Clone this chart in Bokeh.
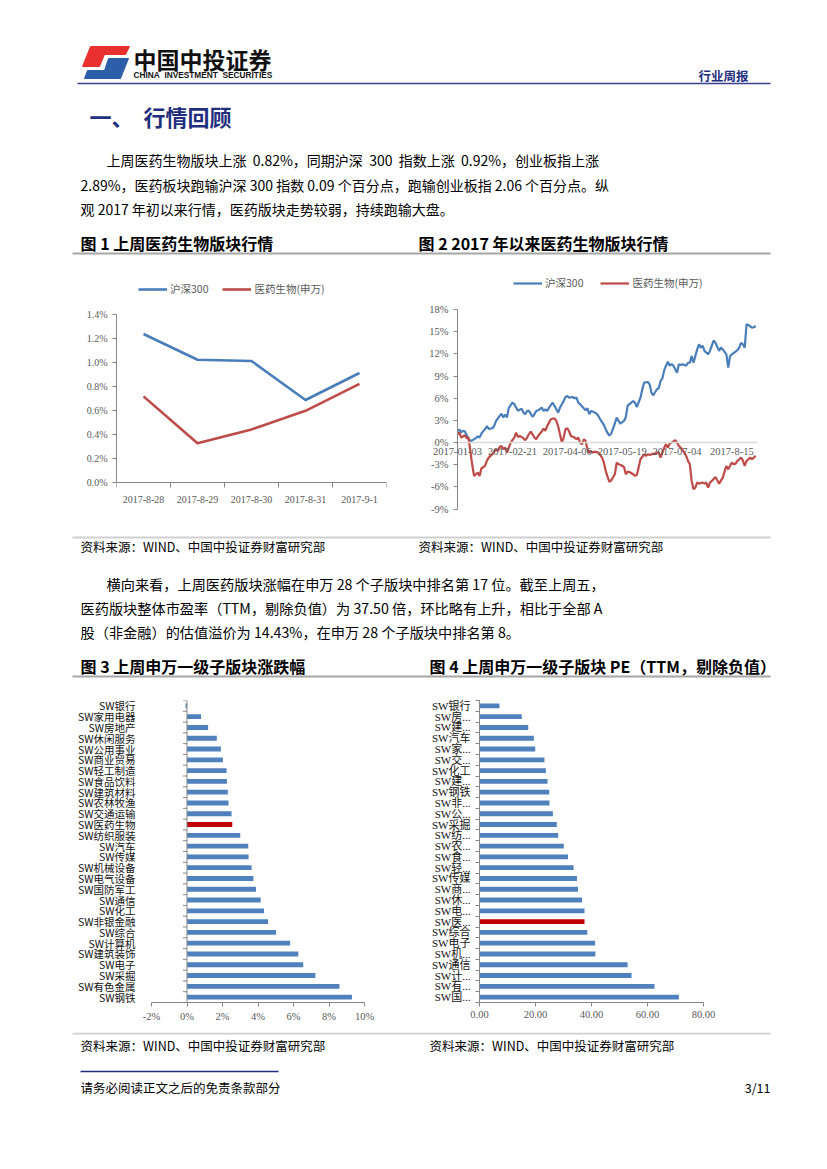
import numpy as np
from bokeh.plotting import figure
from bokeh.models import Range1d, FixedTicker, PrintfTickFormatter, Legend, LegendItem, Span
from bokeh.layouts import column, row
from bokeh.embed import file_html
from bokeh.resources import INLINE
from bokeh.core.properties import value

# ---------------- data ----------------
c1_dates = ["2017-8-28", "2017-8-29", "2017-8-30", "2017-8-31", "2017-9-1"]
c1_hs300 = [1.24, 1.025, 1.015, 0.69, 0.915]
c1_med = [0.72, 0.33, 0.445, 0.60, 0.825]
c1_yticks = [0.0, 0.2, 0.4, 0.6, 0.8, 1.0, 1.2, 1.4]

c2_tick_idx = [0, 30, 60, 90, 120, 150]
c2_tick_labels = ["2017-01-03", "2017-02-21", "2017-04-06", "2017-05-19", "2017-07-04", "2017-8-15"]
c2_yticks = [-9, -6, -3, 0, 3, 6, 9, 12, 15, 18]
c2_hs_idx = [0, 1, 2, 3, 4, 5, 6, 7, 8, 10, 11, 12, 13, 14, 15, 16, 17, 19, 20, 21, 23, 24, 25, 26, 27, 28,
             30, 31, 32, 33, 35, 36, 37, 38, 39, 41, 42, 43, 44, 46, 47, 48, 49, 50, 52, 53, 54, 55, 56, 58,
             59, 60, 61, 63, 64, 65, 66, 67, 69, 70, 71, 72, 73, 75, 76, 77, 78, 80, 81, 82, 83, 84, 85, 86,
             87, 88, 89, 91, 92, 93, 95, 96, 97, 98, 100, 101, 102, 104, 105, 106, 107, 109, 110, 111, 112,
             113, 114, 115, 116, 117, 118, 120, 121, 122, 123, 125, 126, 127, 128, 129, 131, 132, 133, 134,
             135, 137, 138, 139, 140, 141, 143, 144, 145, 147, 148, 149, 150, 152, 153, 154, 155, 156, 157,
             158, 159, 161, 162, 163]
c2_hs_val = [1.58, 1.75, 1.4, 1.6, 1.5, 1.0, 0.45, 0.23, 0.3, 0.6, 0.85, 0.7, 1.2, 1.55, 1.8, 2.25, 1.85,
             1.94, 2.25, 2.9, 3.6, 3.9, 3.4, 3.8, 3.4, 4.7, 5.4, 5.2, 4.75, 4.3, 4.6, 4.06, 3.83, 4.28, 4.28,
             3.5, 3.83, 4.28, 4.37, 4.73, 4.28, 4.5, 4.28, 4.73, 5.4, 4.96, 4.5, 4.06, 4.73, 5.63, 6.17, 6.3,
             6.08, 6.17, 6.0, 6.08, 5.4, 5.18, 4.64, 4.37, 4.64, 3.83, 4.28, 4.06, 3.92, 3.6, 3.15, 2.4, 1.8,
             1.3, 0.95, 1.2, 1.9, 2.6, 3.38, 2.93, 2.57, 2.93, 3.47, 5.0, 5.4, 5.63, 5.4, 4.82, 6.08, 7.2, 8.1,
             8.2, 7.9, 6.76, 6.4, 7.21, 7.35, 8.34, 8.7, 9.8, 10.4, 10.95, 10.4, 10.6, 10.4, 9.46, 10.6, 10.5,
             10.6, 10.4, 10.8, 10.8, 11.7, 10.8, 12.6, 13.3, 12.84, 13.1, 12.4, 11.94, 12.4, 13.1, 13.8, 13.5,
             12.4, 12.84, 12.6, 11.94, 10.14, 11.7, 11.94, 12.3, 12.5, 12.84, 13.5, 13.3, 12.84, 16.0, 15.9,
             15.55, 15.6, 15.77]
c2_med_idx = [0, 1, 2, 4, 5, 6, 7, 8, 9, 10, 11, 12, 13, 15, 16, 17, 18, 19, 21, 22, 23, 24, 25, 26, 27, 28,
              29, 31, 32, 33, 34, 36, 37, 38, 39, 40, 42, 43, 44, 45, 46, 47, 48, 49, 50, 51, 53, 54, 55, 56,
              57, 58, 59, 60, 61, 62, 64, 65, 66, 67, 68, 69, 70, 71, 72, 73, 74, 75, 77, 78, 79, 80, 81, 82,
              83, 84, 86, 87, 88, 89, 91, 92, 93, 94, 96, 97, 98, 99, 100, 102, 103, 104, 105, 107, 108, 109,
              110, 111, 113, 114, 115, 116, 117, 119, 120, 121, 122, 124, 125, 126, 127, 128, 129, 130, 131,
              132, 134, 135, 136, 137, 138, 139, 141, 142, 143, 145, 146, 147, 148, 150, 151, 152, 153, 155,
              156, 157, 158, 160, 161, 162, 163]
c2_med_val = [1.13, 1.35, 0.68, 1.0, 0.6, 0.68, -1.2, -3.0, -4.5, -4.28, -4.06, -4.5, -3.5, -3.15, -2.48,
              -2.03, -1.8, -1.58, -0.9, -1.13, -0.6, -0.45, -0.9, -0.68, -1.35, -0.68, 0.0, 0.68, 1.35, 0.77,
              0.9, 0.6, 0.32, 0.68, 1.13, 1.5, 0.7, 0.45, 0.9, 1.2, 1.5, 1.9, 1.58, 2.25, 2.7, 3.15, 3.29, 2.93,
              2.2, 1.13, 0.0, 0.68, 1.8, 1.94, 1.5, 0.9, 0.68, 0.45, 0.68, 0.0, -0.23, 0.45, 0.23, -0.9, -1.35,
              -1.13, -1.35, -1.22, -1.35, -1.7, -2.03, -2.7, -3.83, -4.6, -5.3, -5.1, -4.28, -2.7, -2.93, -3.0,
              -3.3, -4.28, -3.92, -3.97, -4.28, -4.5, -4.37, -3.38, -2.25, -1.58, -1.8, -1.58, -1.67, -1.49,
              -1.58, -1.35, -1.35, -2.03, -0.68, -0.23, -0.68, -0.14, 0.0, 0.32, 0.0, -0.45, -0.68, -1.35, -1.8,
              -2.48, -2.93, -5.18, -6.3, -6.08, -5.4, -5.54, -5.4, -5.54, -5.4, -6.08, -5.4, -5.18, -4.64, -5.1,
              -5.54, -4.73, -3.92, -3.15, -3.6, -2.7, -2.93, -2.84, -2.48, -2.03, -2.39, -3.15, -2.48, -2.03,
              -2.25, -2.03, -1.8]

c3_cats = ["SW银行", "SW家用电器", "SW房地产", "SW休闲服务", "SW公用事业", "SW商业贸易", "SW轻工制造",
           "SW食品饮料", "SW建筑材料", "SW农林牧渔", "SW交通运输", "SW医药生物", "SW纺织服装", "SW汽车",
           "SW传媒", "SW机械设备", "SW电气设备", "SW国防军工", "SW通信", "SW化工", "SW非银金融", "SW综合",
           "SW计算机", "SW建筑装饰", "SW电子", "SW采掘", "SW有色金属", "SW钢铁"]
c3_vals = [-0.08, 0.79, 1.19, 1.68, 1.91, 2.02, 2.23, 2.25, 2.30, 2.34, 2.51, 2.55, 3.00, 3.45, 3.47, 3.64,
           3.74, 3.89, 4.15, 4.34, 4.57, 5.02, 5.81, 6.27, 6.55, 7.23, 8.59, 9.29]
c3_xticks = [-2, 0, 2, 4, 6, 8, 10]

c4_cats = ["SW银行", "SW房...", "SW建...", "SW汽车", "SW家...", "SW交...", "SW化工", "SW建...", "SW钢铁",
           "SW非...", "SW公...", "SW采掘", "SW纺...", "SW农...", "SW食...", "SW轻...", "SW传媒", "SW商...",
           "SW休...", "SW电...", "SW医...", "SW综合", "SW电子", "SW机...", "SW通信", "SW计...", "SW有...",
           "SW国..."]
c4_vals = [7.13, 15.1, 17.4, 19.4, 19.9, 23.2, 23.7, 24.3, 24.9, 25.0, 26.2, 27.6, 28.1, 30.1, 31.6, 33.6,
           34.8, 35.2, 36.6, 37.5, 37.5, 38.5, 41.3, 41.4, 52.9, 54.3, 62.5, 71.2]
c4_xticks = [0, 20, 40, 60, 80]

highlight3 = "SW医药生物"
highlight4 = "SW医..."

# ---------------- styles ----------------
CJK = "Noto Sans CJK SC"
SERIF = "Liberation Serif"
BLUE = "#4A7EBB"
RED = "#BE4B48"
BAR = "#4F81BD"
BAR_HL = "#C00000"
AX = "#868686"
LBL = "#595959"
NAVY = "#1F2F7E"
W = 811
SP = "\u00a0"


def blank(h, top):
    p = figure(width=W, height=h, x_range=Range1d(0, W), y_range=Range1d(top + h, top),
               output_backend="svg", toolbar_location=None, min_border=0,
               x_axis_location=None, y_axis_location=None)
    p.grid.visible = False
    p.outline_line_color = None
    return p


def txt(p, x, y, s, size, color="#000000", bold=False, font=CJK, align="left"):
    p.text(x=[x], y=[y], text=[s], text_font=value(font), text_font_size=f"{size}px",
           text_color=color, text_font_style="bold" if bold else "normal",
           text_baseline="middle", text_align=align)


def hline(p, x0, x1, y, color, w):
    p.line(x=[x0, x1], y=[y, y], line_color=color, line_width=w)


def make_legend(items, spacing, loc):
    return Legend(items=items, location=loc, orientation="horizontal", padding=0, margin=0,
                  spacing=spacing, glyph_width=29, glyph_height=12, label_height=12, label_standoff=3,
                  label_text_font=CJK, label_text_font_size="10.5px", label_text_color=LBL,
                  border_line_color=None, background_fill_alpha=0)


def style_axis(ax, size="10.5px", color=LBL, font=SERIF):
    ax.major_label_text_font = font
    ax.major_label_text_font_size = size
    ax.major_label_text_color = color


# ---------------- header block ----------------
hdr = blank(255, 0)
hdr.patch(x=[90, 129, 125, 104, 99, 82], y=[46, 46, 54, 54, 66, 66], color="#E8312F")
hdr.patch(x=[108, 128, 120, 84, 87, 104], y=[58, 58, 78, 78, 70, 70], color="#2D5FA8")
txt(hdr, 133, 58, "中国中投证券", 23, "#111111", True)
txt(hdr, 133, 74, "CHINA" + SP * 2 + "INVESTMENT" + SP * 2 + "SECURITIES", 8.3, "#111111", True, "Liberation Sans")
txt(hdr, 748, 75, "行业周报", 12.5, NAVY, True, align="right")
hline(hdr, 77, 770, 83, "#3B3F8F", 1.6)
txt(hdr, 89, 115, "一、" + SP * 2 + "行情回顾", 22, NAVY, True)
txt(hdr, 106, 159, "上周医药生物版块上涨" + SP + " 0.82%，同期沪深" + SP + " 300" + SP + " 指数上涨" + SP
    + " 0.92%，创业板指上涨", 14)
txt(hdr, 80, 184, "2.89%，医药板块跑输沪深 300 指数 0.09 个百分点，跑输创业板指 2.06 个百分点。纵", 14)
txt(hdr, 80, 208, "观 2017 年初以来行情，医药版块走势较弱，持续跑输大盘。", 14)
txt(hdr, 80, 242, "图 1 上周医药生物版块行情", 16, "#000000", True)
txt(hdr, 418, 242, "图 2 2017 年以来医药生物版块行情", 16, "#000000", True)
hline(hdr, 72, 770, 253, "#A6A6A6", 2)

# ---------------- chart 1 ----------------
# Both charts in this row share one frame height; the frame reaches past the axes so the
# legend and edge tick labels stay inside it; axes are bounded / fixed at the data origin.
p1 = figure(width=410, height=280, x_range=Range1d(-0.5, len(c1_dates) - 0.5), y_range=Range1d(-0.2975, 1.769),
            output_backend="svg", toolbar_location=None,
            min_border_left=116, min_border_right=24, min_border_top=15, min_border_bottom=17)
xs1 = list(range(len(c1_dates)))
r1a = p1.line(xs1, c1_hs300, line_color=BLUE, line_width=2.6)
r1b = p1.line(xs1, c1_med, line_color=RED, line_width=2.6)
p1.grid.visible = False
p1.outline_line_color = None
p1.xaxis.fixed_location = 0
p1.xaxis.ticker = FixedTicker(ticks=xs1, minor_ticks=[i - 0.5 for i in range(len(c1_dates) + 1)])
p1.xaxis.major_label_overrides = {i: d for i, d in enumerate(c1_dates)}
p1.xaxis.axis_line_color = AX
p1.xaxis.major_tick_line_color = None
p1.xaxis.major_tick_out = 0
p1.xaxis.minor_tick_out = 5
p1.xaxis.minor_tick_in = 0
p1.xaxis.minor_tick_line_color = AX
p1.xaxis.major_label_standoff = 8
style_axis(p1.xaxis, "10px")
p1.yaxis.ticker = FixedTicker(ticks=c1_yticks)
p1.yaxis.bounds = (c1_yticks[0], c1_yticks[-1])
p1.yaxis.formatter = PrintfTickFormatter(format="%.1f%%")
p1.yaxis.axis_line_color = AX
p1.yaxis.major_tick_line_color = AX
p1.yaxis.major_tick_out = 4
p1.yaxis.major_tick_in = 0
p1.yaxis.minor_tick_line_color = None
p1.yaxis.major_label_standoff = 5
style_axis(p1.yaxis, "10px")
p1.add_layout(make_legend([LegendItem(label="沪深300", renderers=[r1a]),
                           LegendItem(label="医药生物(申万)", renderers=[r1b])], 14, (22, 222)))

# ---------------- chart 2 ----------------
p2 = figure(width=401, height=280, x_range=Range1d(-17, 164), y_range=Range1d(-10.26, 23.27),
            output_backend="svg", toolbar_location=None,
            min_border_left=16, min_border_right=54, min_border_top=15, min_border_bottom=17)
p2.grid.visible = False
p2.outline_line_color = None
r2a = p2.line(c2_hs_idx, c2_hs_val, line_color=BLUE, line_width=2.2)
r2b = p2.line(c2_med_idx, c2_med_val, line_color=RED, line_width=2.2)
p2.xaxis.fixed_location = 0
p2.xaxis.bounds = (0, 164)
p2.xaxis.ticker = FixedTicker(ticks=c2_tick_idx)
p2.xaxis.major_label_overrides = {i: s for i, s in zip(c2_tick_idx, c2_tick_labels)}
p2.xaxis.axis_line_color = "#D9D9D9"
p2.xaxis.axis_line_width = 1.5
p2.xaxis.major_tick_line_color = None
p2.xaxis.major_tick_out = 0
p2.xaxis.minor_tick_line_color = None
p2.xaxis.major_label_standoff = 5
style_axis(p2.xaxis)
p2.yaxis.fixed_location = 0
p2.yaxis.ticker = FixedTicker(ticks=c2_yticks)
p2.yaxis.bounds = (c2_yticks[0], c2_yticks[-1])
p2.yaxis.formatter = PrintfTickFormatter(format="%d%%")
p2.yaxis.axis_line_color = AX
p2.yaxis.major_tick_line_color = AX
p2.yaxis.major_tick_out = 4
p2.yaxis.major_tick_in = 0
p2.yaxis.minor_tick_line_color = None
p2.yaxis.major_label_standoff = 5
style_axis(p2.yaxis)
p2.add_layout(make_legend([LegendItem(label="沪深300", renderers=[r2a]),
                           LegendItem(label="医药生物(申万)", renderers=[r2b])], 17, (87, 228)))

# ---------------- middle block ----------------
mid = blank(145, 535)
hline(mid, 72, 770, 537, "#D0D0D0", 2)
txt(mid, 80, 546, "资料来源：WIND、中国中投证券财富研究部", 12.5)
txt(mid, 418, 546, "资料来源：WIND、中国中投证券财富研究部", 12.5)
txt(mid, 106, 583, "横向来看，上周医药版块涨幅在申万 28 个子版块中排名第 17 位。截至上周五，", 14.2)
txt(mid, 80, 607, "医药版块整体市盈率（TTM，剔除负值）为 37.50 倍，环比略有上升，相比于全部 A", 14.2)
txt(mid, 80, 631, "股（非金融）的估值溢价为 14.43%，在申万 28 个子版块中排名第 8。", 14.2)
txt(mid, 80, 665, "图 3 上周申万一级子版块涨跌幅", 16, "#000000", True)
txt(mid, 429, 665, "图 4 上周申万一级子版块 PE（TTM，剔除负值）", 16, "#000000", True)
hline(mid, 72, 770, 676, "#A6A6A6", 2)

# ---------------- chart 3 ----------------
n3 = len(c3_cats)
ys3 = [n3 - 1 - i for i in range(n3)]
cols3 = [BAR_HL if c == highlight3 else BAR for c in c3_cats]
p3 = figure(width=410, height=352, x_range=Range1d(-2, 10), y_range=Range1d(-0.5, n3 - 0.5),
            output_backend="svg", toolbar_location=None,
            min_border_left=151, min_border_right=46, min_border_top=20, min_border_bottom=30)
p3.grid.visible = False
p3.outline_line_color = None
p3.hbar(y=ys3, left=0, right=c3_vals, height=0.45, fill_color=cols3, line_color=None)
p3.add_layout(Span(location=0, dimension="height", line_color=AX, line_width=1))
p3.ray(x=[0] * (n3 + 1), y=[i - 0.5 for i in range(n3 + 1)], length=4, length_units="screen",
       angle=np.pi, line_color=AX, line_width=1)
p3.yaxis.ticker = FixedTicker(ticks=ys3)
p3.yaxis.major_label_overrides = {y: c for y, c in zip(ys3, c3_cats)}
p3.yaxis.axis_line_color = None
p3.yaxis.major_tick_line_color = None
p3.yaxis.minor_tick_line_color = None
p3.yaxis.major_label_standoff = 10
style_axis(p3.yaxis, "10.5px", "#111111", CJK)
p3.xaxis.ticker = FixedTicker(ticks=c3_xticks)
p3.xaxis.formatter = PrintfTickFormatter(format="%d%%")
p3.xaxis.axis_line_color = AX
p3.xaxis.major_tick_line_color = AX
p3.xaxis.major_tick_out = 4
p3.xaxis.major_tick_in = 0
p3.xaxis.minor_tick_line_color = None
p3.xaxis.major_label_standoff = 4
style_axis(p3.xaxis)

# ---------------- chart 4 ----------------
n4 = len(c4_cats)
ys4 = [n4 - 1 - i for i in range(n4)]
cols4 = [BAR_HL if c == highlight4 else BAR for c in c4_cats]
p4 = figure(width=401, height=352, x_range=Range1d(0, 80), y_range=Range1d(-0.5, n4 - 0.5),
            output_backend="svg", toolbar_location=None,
            min_border_left=69, min_border_right=108, min_border_top=18, min_border_bottom=27)
p4.grid.visible = False
p4.outline_line_color = None
p4.hbar(y=ys4, left=0, right=c4_vals, height=0.45, fill_color=cols4, line_color=None)
p4.yaxis.ticker = FixedTicker(ticks=ys4, minor_ticks=[i - 0.5 for i in range(n4 + 1)])
p4.yaxis.major_label_overrides = {y: c for y, c in zip(ys4, c4_cats)}
p4.yaxis.axis_line_color = AX
p4.yaxis.major_tick_line_color = None
p4.yaxis.minor_tick_line_color = AX
p4.yaxis.minor_tick_out = 4
p4.yaxis.minor_tick_in = 0
p4.yaxis.major_label_standoff = 3
style_axis(p4.yaxis, "11px", "#111111", SERIF + ", " + CJK)
p4.xaxis.ticker = FixedTicker(ticks=c4_xticks)
p4.xaxis.formatter = PrintfTickFormatter(format="%.2f")
p4.xaxis.axis_line_color = AX
p4.xaxis.major_tick_line_color = AX
p4.xaxis.major_tick_out = 4
p4.xaxis.major_tick_in = 0
p4.xaxis.minor_tick_line_color = None
p4.xaxis.major_label_standoff = 4
style_axis(p4.xaxis)

# ---------------- footer ----------------
ftr = blank(78, 1032)
hline(ftr, 72, 770, 1033, "#D0D0D0", 2)
txt(ftr, 80, 1045, "资料来源：WIND、中国中投证券财富研究部", 12.5)
txt(ftr, 429, 1045, "资料来源：WIND、中国中投证券财富研究部", 12.5)
hline(ftr, 80, 278, 1071, "#1F2F7E", 1.5)
txt(ftr, 80, 1087, "请务必阅读正文之后的免责条款部分", 12.5)
txt(ftr, 770, 1087, "3/11", 12.5, align="right")

page = column(hdr, row(p1, p2), mid, row(p3, p4), ftr)
open("out.html", "w").write(file_html(page, INLINE))
